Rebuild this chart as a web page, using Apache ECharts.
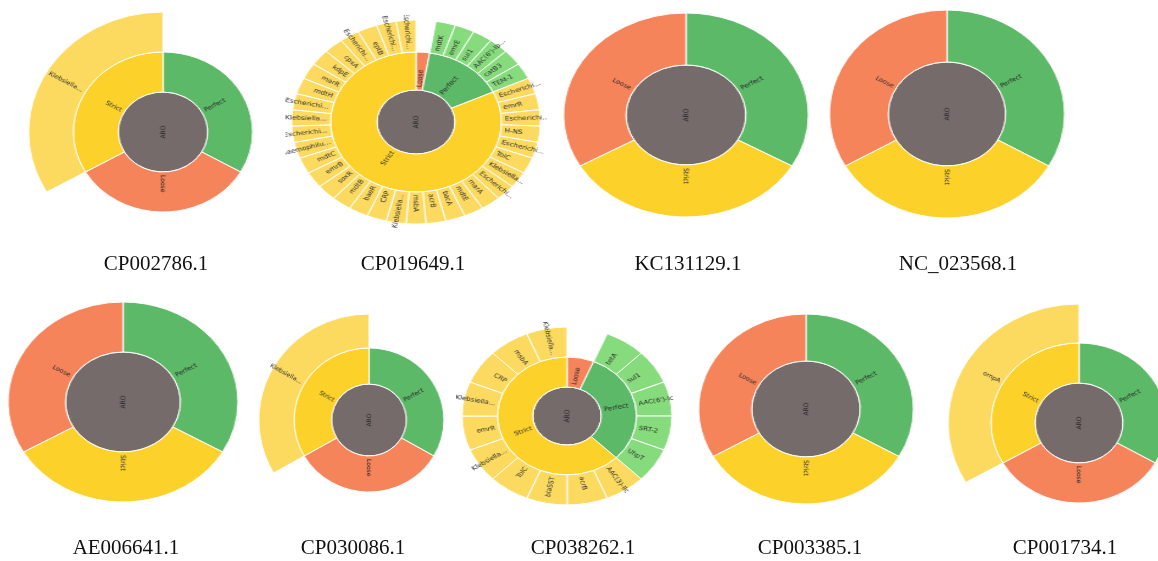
<!DOCTYPE html>
<html>
<head>
<meta charset="utf-8">
<script src="https://cdn.jsdelivr.net/npm/echarts@6/dist/echarts.min.js"></script>
<style>
  html, body { margin: 0; padding: 0; background: #fff; }
  #page { position: relative; width: 1158px; height: 561px; overflow: hidden; }
  #titles { position: absolute; left: 0; top: 0; width: 1158px; height: 561px; }
  .sun { position: absolute; transform-origin: 50% 50%; }
</style>
</head>
<body>
<div id="page"><div id="titles"></div></div>
<script>
  // accession shown under each sunburst
  const titles = ['CP002786.1', 'CP019649.1', 'KC131129.1', 'NC_023568.1',
    'AE006641.1', 'CP030086.1', 'CP038262.1', 'CP003385.1', 'CP001734.1']

  // order of the middle ring, clockwise from 12 o'clock
  const orderPLS = ['Perfect', 'Loose', 'Strict']
  const orderPSL = ['Perfect', 'Strict', 'Loose']
  const orderLPS = ['Loose', 'Perfect', 'Strict']

  // hits without gene level get one unit
  const groupValues = [1, 1, 1]

  // gene level (outer ring)
  const cp002786Strict = ['Klebsiella pneumoniae OmpK37']
  const cp019649Perfect = ['mdtK', 'emrE', 'sul1', "AAC(6')-Ib-cr", 'catB3', 'TEM-1']
  const cp019649Strict = ['Escherichia coli ampC', 'emrR', 'Escherichia coli soxS', 'H-NS',
    'Escherichia coli emrE', 'TolC', 'Klebsiella pneumoniae KpnF', 'Escherichia coli acrR',
    'marA', 'mdtE', 'bacA', 'acrB', 'msbA', 'Klebsiella pneumoniae KpnH', 'CRP', 'baeR',
    'mdtB', 'soxR', 'emrB', 'mdtC', 'Haemophilus influenzae PBP3', 'Escherichia coli GlpT',
    'Klebsiella pneumoniae OmpK37', 'Escherichia coli UhpT', 'mdtH', 'marR', 'kdpE', 'cpxA',
    'Escherichia coli mdfA', 'eptB', 'Escherichia coli EF-Tu', 'Escherichia coli PtsI']
  const cp030086Strict = ['Klebsiella pneumoniae KpnH']
  const cp038262Perfect = ['tetA', 'sul1', "AAC(6')-Ic", 'SRT-2', 'UhpT']
  const cp038262Strict = ['AAC(3)-IIc', 'acrB', 'blaSST', 'TolC', 'Klebsiella pneumoniae KpnF',
    'emrR', 'Klebsiella pneumoniae KpnE', 'CRP', 'msbA', 'Klebsiella pneumoniae KpnH']
  const cp001734Strict = ['ompA']

  const GRAY = '#756b6a'
  const groupColor = { Perfect: '#5cb968', Loose: '#f5845a', Strict: '#fbd12a' }
  const leafColor = { Perfect: '#86dc7c', Loose: '#f79c78', Strict: '#fcda60' }

  function buildData(order, genes) {
    const children = order.map((g, i) => {
      const node = { name: g, itemStyle: { color: groupColor[g] } }
      if (genes[g] && genes[g].length) {
        node.children = genes[g].map(n => ({ name: n, value: 1, itemStyle: { color: leafColor[g] } }))
      } else {
        node.value = groupValues[i]
      }
      return node
    })
    return [{ name: 'ARO', itemStyle: { color: GRAY }, children }]
  }

  const datasets = [
    buildData(orderPLS, { Strict: cp002786Strict }),
    buildData(orderLPS, { Perfect: cp019649Perfect, Strict: cp019649Strict }),
    buildData(orderPSL, {}),
    buildData(orderPSL, {}),
    buildData(orderPSL, {}),
    buildData(orderPLS, { Strict: cp030086Strict }),
    buildData(orderLPS, { Perfect: cp038262Perfect, Strict: cp038262Strict }),
    buildData(orderPSL, {}),
    buildData(orderPLS, { Strict: cp001734Strict }),
  ]

  // placement of each sunburst: centre, ring radii (vertical) and horizontal stretch
  const layout = [
    { cx: 163, cy: 132, sx: 1.12, r: [40, 80, 120] },
    { cx: 416, cy: 122, sx: 1.22, r: [32, 70, 102] },
    { cx: 686, cy: 115, sx: 1.2, r: [50, 102] },
    { cx: 947, cy: 114, sx: 1.13, r: [52, 104] },
    { cx: 123, cy: 402, sx: 1.15, r: [50, 100] },
    { cx: 369, cy: 420, sx: 1.04, r: [36, 72, 106] },
    { cx: 567, cy: 416, sx: 1.18, r: [29, 59, 89] },
    { cx: 806, cy: 409, sx: 1.13, r: [48, 95] },
    { cx: 1079, cy: 423, sx: 1.1, r: [40, 80, 119] },
  ]
  const titlePos = [[156, 264], [413, 264], [688, 264], [958, 264],
    [126, 548], [353, 548], [583, 548], [810, 548], [1065, 548]]

  function shortName(name) {
    return name.length > 10 ? name.slice(0, 10) + '...' : name
  }

  function sunOption(data, r) {
    const levels = [
      {},
      { r0: 0, r: r[0], label: { rotate: 90, align: 'center' } },
      { r0: r[0], r: r[1], label: { align: 'left' } },
    ]
    if (r[2]) levels.push({ r0: r[1], r: r[2], label: { align: 'left' } })
    return {
      animation: false,
      series: [{
        type: 'sunburst',
        center: ['50%', '50%'],
        sort: null,
        nodeClick: false,
        emphasis: { disabled: true },
        itemStyle: { borderColor: '#fff', borderWidth: 1 },
        label: {
          rotate: 'radial',
          fontSize: 6,
          color: '#2a2a2a',
          fontFamily: 'DejaVu Sans',
          distance: 3,
          formatter: p => shortName(p.name),
        },
        levels,
        data,
      }],
    }
  }

  const page = document.getElementById('page')

  const titleChart = echarts.init(document.getElementById('titles'))
  titleChart.setOption({
    animation: false,
    graphic: titles.map((t, i) => ({
      type: 'text',
      x: titlePos[i][0],
      y: titlePos[i][1],
      style: {
        text: t,
        fill: '#111',
        fontSize: 21,
        fontFamily: 'Liberation Serif',
        align: 'center',
        verticalAlign: 'middle',
      },
    })),
  })

  layout.forEach((l, i) => {
    const R = l.r[l.r.length - 1]
    const size = 2 * R + 10
    const div = document.createElement('div')
    div.className = 'sun'
    div.style.width = size + 'px'
    div.style.height = size + 'px'
    div.style.left = (l.cx - size / 2) + 'px'
    div.style.top = (l.cy - size / 2) + 'px'
    div.style.transform = 'scaleX(' + l.sx + ')'
    page.appendChild(div)
    const chart = echarts.init(div)
    chart.setOption(sunOption(datasets[i], l.r))
  })
</script>
</body>
</html>
